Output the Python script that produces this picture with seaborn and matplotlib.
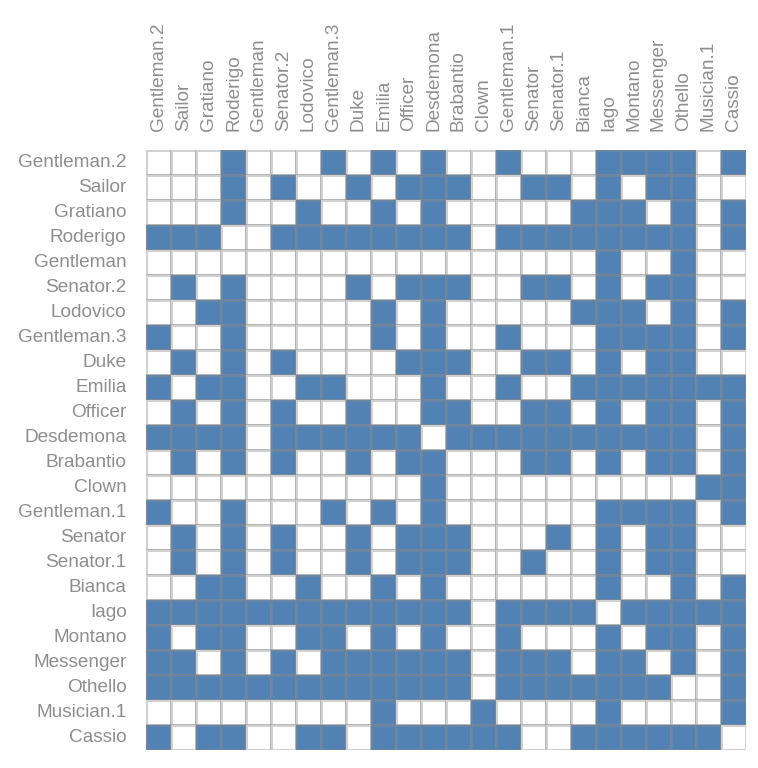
import numpy as np
import pandas as pd
import matplotlib
matplotlib.use("Agg")
import matplotlib.pyplot as plt
from matplotlib.colors import ListedColormap
import seaborn as sns

characters = ["Gentleman.2", "Sailor", "Gratiano", "Roderigo", "Gentleman", "Senator.2",
              "Lodovico", "Gentleman.3", "Duke", "Emilia", "Officer", "Desdemona",
              "Brabantio", "Clown", "Gentleman.1", "Senator", "Senator.1", "Bianca",
              "Iago", "Montano", "Messenger", "Othello", "Musician.1", "Cassio"]

rows = [
    "000100010101" + "001000111101",  # Gentleman.2
    "000101001011" + "100110101100",  # Sailor
    "000100100101" + "000001110101",  # Gratiano
    "111001111111" + "101111111101",  # Roderigo
    "000000000000" + "000000100100",  # Gentleman
    "010100001011" + "100110101100",  # Senator.2
    "001100000101" + "000001110101",  # Lodovico
    "100100000101" + "001000111101",  # Gentleman.3
    "010101000011" + "100110101100",  # Duke
    "101100110001" + "001001111111",  # Emilia
    "010101001001" + "100110101101",  # Officer
    "111101111110" + "111111111101",  # Desdemona
    "010101001011" + "000110101101",  # Brabantio
    "000000000001" + "000000000011",  # Clown
    "100100010101" + "000000111101",  # Gentleman.1
    "010101001011" + "100010101100",  # Senator
    "010101001011" + "100100101100",  # Senator.1
    "001100100101" + "000000100101",  # Bianca
    "111111111111" + "101111011111",  # Iago
    "101100110101" + "001000101101",  # Montano
    "110101011111" + "101110110101",  # Messenger
    "111111111111" + "101111111001",  # Othello
    "000000000100" + "010000100001",  # Musician.1
    "101100110111" + "111001111110",  # Cassio
]

matrix = np.array([[int(c) for c in r] for r in rows])
df = pd.DataFrame(matrix, index=characters, columns=characters)

sns.set_theme(style="white")
plt.rcParams["font.family"] = ["Liberation Sans", "DejaVu Sans"]

fig = plt.figure(figsize=(7.58, 7.68), dpi=100)
ax = fig.add_axes([146 / 758, 18 / 768, 600 / 758, 600 / 768])

cmap = ListedColormap(["#ffffff", "#5182b3"])
sns.heatmap(df, ax=ax, cmap=cmap, vmin=0, vmax=1, cbar=False,
            linewidths=0.75, linecolor=(0.55, 0.55, 0.55, 0.4), square=False)

ax.xaxis.tick_top()
ax.set_xticks(np.arange(len(characters)) + 0.5)
ax.set_xticklabels(characters, rotation=90, fontsize=13.7, color="#8e8e8e")
ax.set_yticks(np.arange(len(characters)) + 0.5)
ax.set_yticklabels(characters, rotation=0, fontsize=13.7, color="#8e8e8e")
ax.tick_params(axis="both", length=0, pad=14)
ax.set_xlabel("")
ax.set_ylabel("")
for s in ax.spines.values():
    s.set_visible(False)

fig.savefig("out.png", dpi=100)
